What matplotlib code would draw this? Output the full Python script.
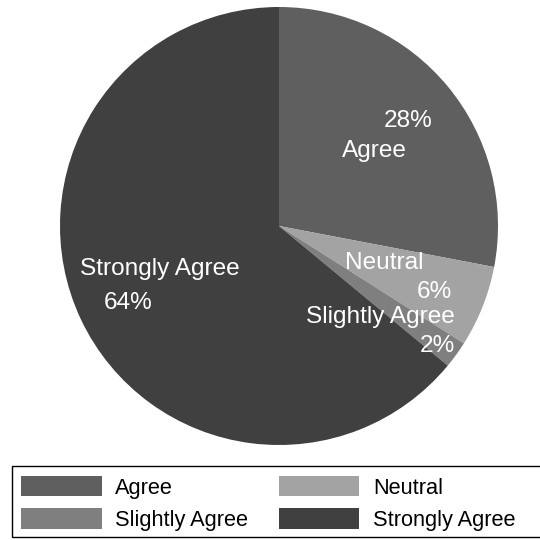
import matplotlib
matplotlib.use('Agg')

import numpy as np
import matplotlib.pyplot as plt
from matplotlib.patches import Patch, Rectangle

plt.rcParams['font.family'] = ['Liberation Sans', 'DejaVu Sans']

# data
categories = ['Agree', 'Neutral', 'Slightly Agree', 'Strongly Agree']
shares = [28, 6, 2, 64]
colors = ['#5f5f5f', '#a3a3a3', '#7f7f7f', '#404040']

# label placement (radius fraction, angle offset from wedge middle in degrees)
name_r = [0.555, 0.51, 0.62, 0.58]
name_da = [-1.2, 2.5, -6.0, -5.5]
pct_r = [0.76, 0.77, 0.91, 0.775]
pct_da = [-0.6, -1.5, -1.2, 1.8]

W, H = 540, 540
fig = plt.figure(figsize=(W / 100, H / 100), dpi=100)
cx, cy, rad = 279, 226, 219
ax = fig.add_axes([(cx - rad) / W, 1 - (cy + rad) / H, 2 * rad / W, 2 * rad / H])

wedges, _ = ax.pie(shares, colors=colors, startangle=90, counterclock=False,
                   radius=1, wedgeprops=dict(linewidth=0))
ax.set_xlim(-1, 1)
ax.set_ylim(-1, 1)
ax.set_aspect('equal')
ax.axis('off')

for i, w in enumerate(wedges):
    mid = (w.theta1 + w.theta2) / 2
    a1 = np.deg2rad(mid + name_da[i])
    a2 = np.deg2rad(mid + pct_da[i])
    ax.text(name_r[i] * np.cos(a1), name_r[i] * np.sin(a1), categories[i],
            ha='center', va='center', color='white', fontsize=17.6)
    ax.text(pct_r[i] * np.cos(a2), pct_r[i] * np.sin(a2), f'{shares[i]}%',
            ha='center', va='center', color='white', fontsize=17.6)

# legend, filled row by row like the original
order = [0, 2, 1, 3]
handles = [Patch(facecolor=colors[k], edgecolor='none') for k in order]
labels = [categories[k] for k in order]
fig.legend(handles, labels, ncol=2, frameon=False, loc='upper left',
           bbox_to_anchor=(21 / W, 1 - 476 / H), borderpad=0, borderaxespad=0,
           fontsize=15.7, handlelength=3.7, handleheight=1.05,
           handletextpad=0.62, columnspacing=1.4, labelspacing=0.45)
fig.patches.append(Rectangle((12 / W, 1 - 537 / H), 540 / W, 71 / H,
                             transform=fig.transFigure, fill=False,
                             edgecolor='black', linewidth=1))

fig.savefig('out.png', dpi=100, facecolor='white')
